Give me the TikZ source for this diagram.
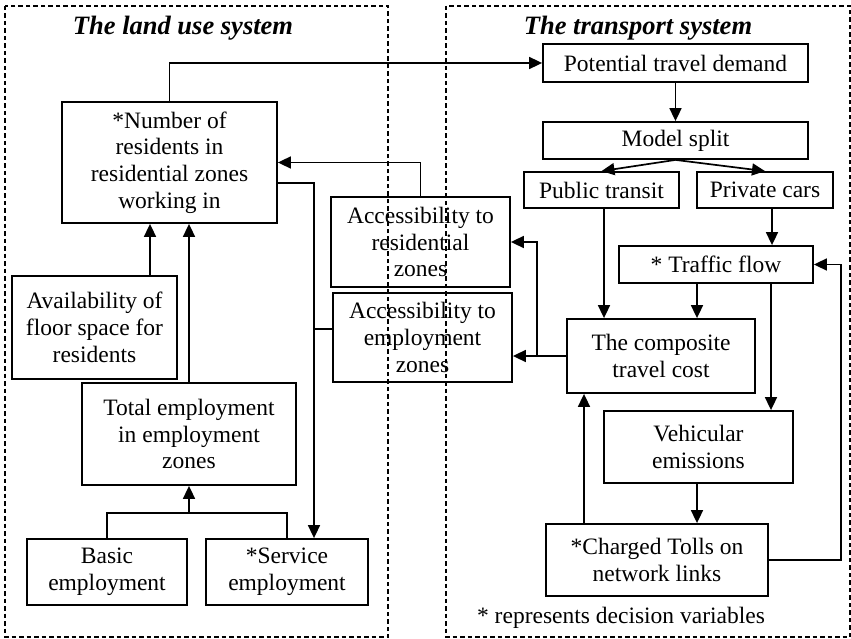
\documentclass[tikz,border=0pt]{standalone}
\usepackage{fontspec}
\setmainfont{Liberation Serif}
\usetikzlibrary{arrows.meta,calc}
\begin{document}
\begin{tikzpicture}[x=1pt,y=-1pt,
  box/.style={draw,line width=1.8pt,inner sep=0pt,align=center,
    font=\fontsize{23.5}{26.7}\selectfont},
  link/.style={line width=1.7pt},
  arr/.style={link,-{Triangle[length=13pt,width=12pt]}},
  frame/.style={line width=1.1pt,dash pattern=on 4.5pt off 3pt},
  heading/.style={font=\fontsize{26.5}{30}\selectfont\bfseries\itshape},
  note/.style={font=\fontsize{23.5}{26.7}\selectfont}]
\useasboundingbox (0,0) rectangle (851,639);

% system frames
\draw[frame] (5,6) rectangle (388,637);
\draw[frame] (446,6) rectangle (850,637);
\node[heading] (tland) at (183,28) {The land use system};
\node[heading] (ttrans) at (638,28) {The transport system};

% land use side
\node[box,minimum width=215,minimum height=121] (res) at (169.5,162.5)
  {*Number of\\residents in\\residential zones\\working in};
\node[box,minimum width=165,minimum height=103] (avail) at (94.5,327.5)
  {Availability of\\floor space for\\residents};
\node[box,minimum width=214,minimum height=102] (totemp) at (189,434)
  {Total employment\\in employment\\zones};
\node[box,minimum width=160,minimum height=66] (basic) at (107,572)
  {Basic\\employment};
\node[box,minimum width=162,minimum height=66] (service) at (287,572)
  {*Service\\employment};
\node[box,minimum width=179,minimum height=90] (accres) at (420.5,242)
  {Accessibility to\\residential\\zones};
\node[box,minimum width=179,minimum height=89] (accemp) at (422.5,337.5)
  {Accessibility to\\employment\\zones};

% transport side
\node[box,minimum width=265,minimum height=38] (ptd) at (675.5,63)
  {Potential travel demand};
\node[box,minimum width=265,minimum height=37] (split) at (675.5,140.5)
  {Model split};
\node[box,minimum width=155,minimum height=36] (public) at (601.5,190)
  {Public transit};
\node[box,minimum width=136,minimum height=36] (private) at (765,190)
  {Private cars};
\node[box,minimum width=194,minimum height=37] (traffic) at (716,264.5)
  {* Traffic flow};
\node[box,minimum width=188,minimum height=74] (cost) at (661,356)
  {The composite\\travel cost};
\node[box,minimum width=189,minimum height=72] (emis) at (698.5,447)
  {Vehicular\\emissions};
\node[box,minimum width=222,minimum height=72] (tolls) at (657,560)
  {*Charged Tolls on\\network links};
\node[note] (foot) at (621,618) {* represents decision variables};

% connectors: transport side
\draw[arr] (res.north) |- (ptd.west);
\draw[arr] (ptd.south) -- (split.north);
\draw[arr] (split.south) -- (public.north);
\draw[arr] (split.south) -- (private.north);
\draw[arr] ([xshift=7pt]private.south) -- ([xshift=7pt]private.south |- traffic.north);
\draw[arr] ([xshift=2.5pt]public.south) -- ([xshift=2.5pt]public.south |- cost.north);
\draw[arr] ([xshift=-19pt]traffic.south) -- ([xshift=-19pt]traffic.south |- cost.north);
\draw[arr] ([xshift=55pt]traffic.south) -- ([xshift=55pt]traffic.south |- emis.north);
\draw[arr] ([xshift=-1.5pt]emis.south) -- ([xshift=-1.5pt]emis.south |- tolls.north);
\draw[arr] ([xshift=-73pt]tolls.north) -- ([xshift=-73pt]tolls.north |- cost.south);
\draw[arr] (tolls.east) -- ++(72,0) |- (traffic.east);

% connectors: accessibility
\coordinate (j1) at ([xshift=-29pt]cost.west);
\draw[arr] (cost.west) -- (cost.west -| accemp.east);
\draw[arr] (j1) |- (accres.east);
\draw[arr] (accres.north) |- (res.east);

% connectors: land use side
\coordinate (sv) at ([xshift=27pt]service.north);
\draw[arr] ([yshift=-20.5pt]res.east) -| (sv);
\draw[link] ([yshift=8.5pt]accemp.west) -- ([yshift=8.5pt]accemp.west -| sv);
\draw[arr] ([xshift=55.5pt]avail.north) -- ([xshift=55.5pt]avail.north |- res.south);
\draw[arr] (totemp.north) -- (totemp.north |- res.south);
\coordinate (m) at ($(totemp.south)+(0,27)$);
\draw[link] (basic.north) |- (m) -| (service.north);
\draw[arr] (m) -- (totemp.south);
\end{tikzpicture}
\end{document}
